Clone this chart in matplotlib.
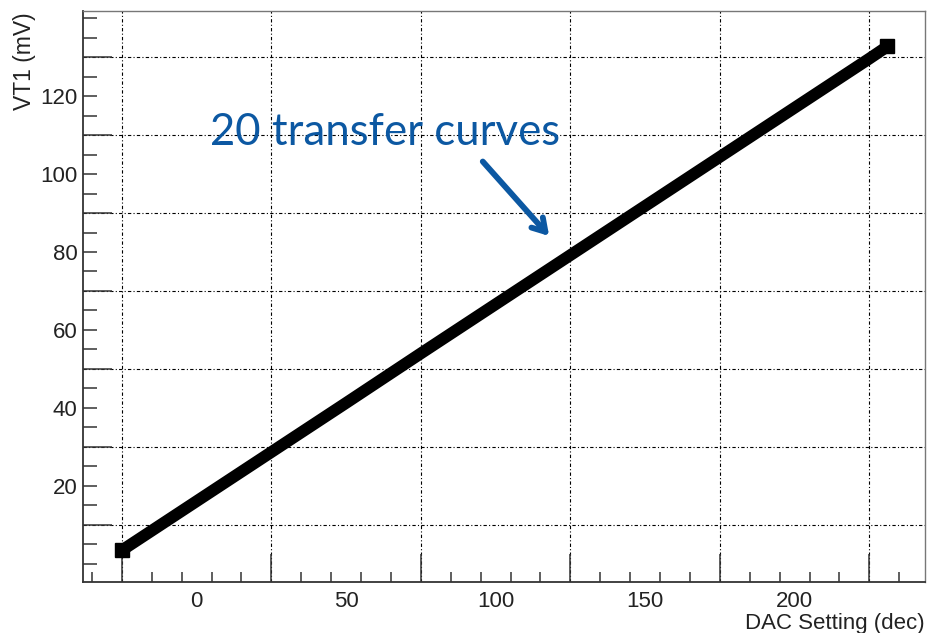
import matplotlib
matplotlib.use('Agg')
import matplotlib.pyplot as plt
from matplotlib.ticker import FixedLocator, NullFormatter

plt.rcParams['font.family'] = ['Liberation Sans', 'DejaVu Sans']

# band of transfer curves, read at steps along the DAC range
dac_setting = [-25, 0, 25, 50, 75, 100, 125, 150, 175, 200, 225, 231]
vt1_mv = [3.5, 16.1, 28.7, 41.3, 54.0, 66.6, 79.2, 91.8, 104.4, 117.0, 129.6, 132.7]

x_labels = [0, 50, 100, 150, 200]
y_labels = [20, 40, 60, 80, 100, 120]
x_grid = [-25, 25, 75, 125, 175, 225]
y_grid = [10, 30, 50, 70, 90, 110, 130]

note_text = '20 transfer curves'
note_xy = (4.5, 107.4)
arrow_tail = (95.7, 103.2)
arrow_tip = (117.9, 84.1)

txt_col = '#222222'
axis_col = '#333333'
blue = '#0C58A2'

fig = plt.figure(figsize=(9.3, 6.33), dpi=100)
ax = fig.add_axes([83.3 / 930, 1 - 582.3 / 633, (925 - 83.3) / 930, (582.3 - 11) / 633])

ax.plot(dac_setting, vt1_mv, color='black', lw=8.5, solid_capstyle='butt',
        marker='s', markersize=10, markevery=[0, -1], zorder=3)

ax.set_xlim(-37.9, 243.6)
ax.set_ylim(-4.7, 141.8)

# long ticks + grid, short minor ticks, no labels on the main axes
ax.xaxis.set_major_locator(FixedLocator(x_grid))
ax.yaxis.set_major_locator(FixedLocator(y_grid))
ax.xaxis.set_minor_locator(FixedLocator(list(range(-35, 240, 10))))
ax.yaxis.set_minor_locator(FixedLocator(list(range(0, 145, 5))))
ax.xaxis.set_major_formatter(NullFormatter())
ax.yaxis.set_major_formatter(NullFormatter())
ax.tick_params(which='major', axis='x', length=20, width=1.1, color=axis_col, direction='in')
ax.tick_params(which='major', axis='y', length=21, width=1.1, color=axis_col, direction='in')
ax.tick_params(which='minor', axis='x', length=7.2, width=1.1, color=axis_col, direction='in')
ax.tick_params(which='minor', axis='y', length=10, width=1.1, color=axis_col, direction='in')
ax.grid(True, which='major', color='black', lw=0.8, dashes=(3, 2, 1, 2))

for side in ['left', 'bottom']:
    ax.spines[side].set_color(axis_col)
    ax.spines[side].set_linewidth(1.3)
for side in ['top', 'right']:
    ax.spines[side].set_color('#777777')
    ax.spines[side].set_linewidth(1.0)

# numeric labels sit between the long ticks
secx = ax.secondary_xaxis('bottom')
secx.set_xticks(x_labels)
secx.tick_params(length=0, pad=6, labelsize=16, labelcolor=txt_col)
secx.spines['bottom'].set_visible(False)

secy = ax.secondary_yaxis('left')
secy.set_yticks(y_labels)
secy.tick_params(length=0, pad=4, labelsize=16, labelcolor=txt_col)
secy.spines['left'].set_visible(False)

fig.text(25 / 930, 1 - 12 / 633, 'VT1 (mV)', rotation=90, ha='center', va='top',
         fontsize=16.5, color=txt_col)
fig.text(925 / 930, 1 - 623 / 633, 'DAC Setting (dec)', ha='right', va='center',
         fontsize=16, color=txt_col)

ax.text(note_xy[0], note_xy[1], note_text, color=blue, fontsize=31.5,
        family=['Lato', 'DejaVu Sans'], ha='left', va='baseline', zorder=4)
ax.annotate('', xy=arrow_tip, xytext=arrow_tail,
            arrowprops=dict(arrowstyle='->,head_length=0.9,head_width=0.55',
                            color=blue, lw=4.2, shrinkA=0, shrinkB=0), zorder=4)

fig.savefig('out.png', dpi=100)
